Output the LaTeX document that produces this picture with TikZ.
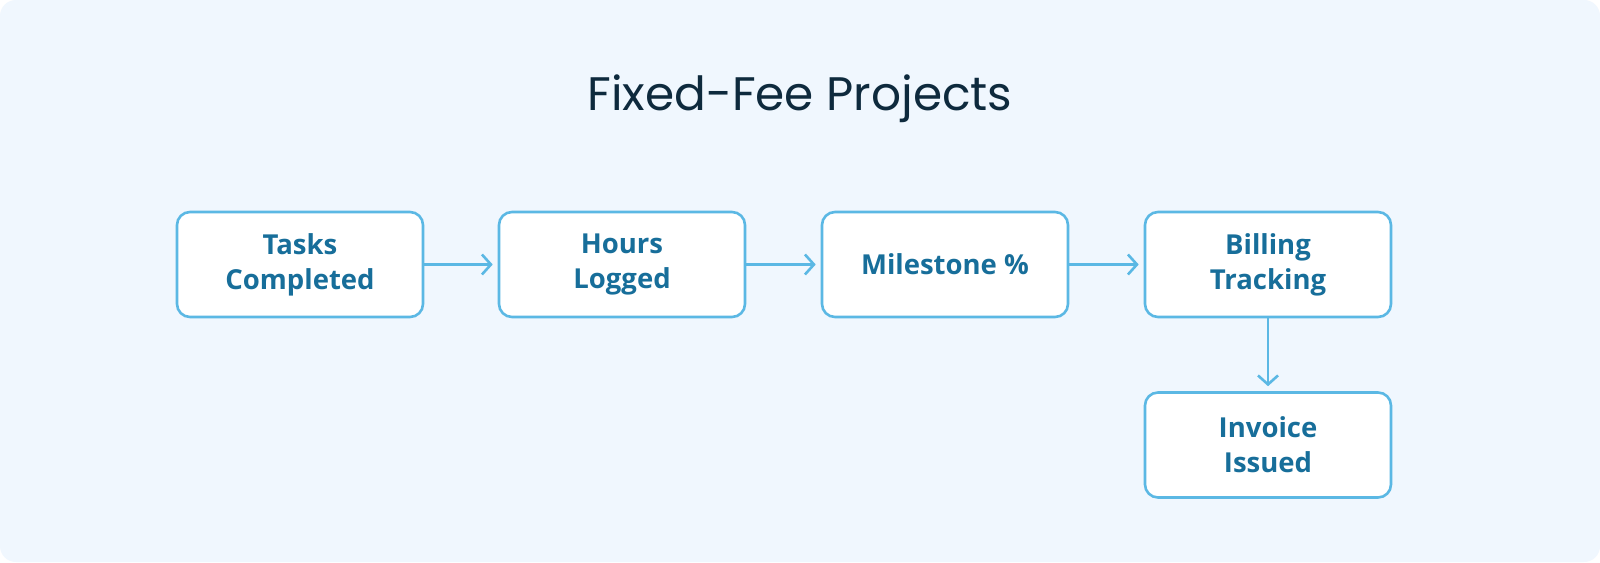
\documentclass[tikz,border=0pt]{standalone}
\usepackage{fontspec}
\usetikzlibrary{arrows.meta}
\newfontfamily\titlefont{Poppins}
\newfontfamily\boxfont{Open Sans}
\definecolor{bgblue}{HTML}{F0F7FE}
\definecolor{edgeblue}{HTML}{5BB8E4}
\definecolor{textblue}{HTML}{176E9A}
\definecolor{titlenavy}{HTML}{0E2A3D}
\tikzset{
  stepbox/.style={draw=edgeblue, line width=2.6pt, fill=white, rounded corners=13pt,
    minimum width=246pt, minimum height=105pt, align=center, text=textblue,
    font=\boxfont\bfseries\fontsize{27.5}{35}\selectfont, inner sep=0pt},
  flow/.style={draw=edgeblue, line width=2.6pt, -{Straight Barb[length=9pt,width=20pt,line width=2.6pt]}, shorten >=5pt}
}
\begin{document}
\begin{tikzpicture}[x=1pt,y=-1pt]
\fill[white] (0,0) rectangle (1600,562);
\useasboundingbox (0,0) rectangle (1600,562);
\fill[bgblue, rounded corners=16pt] (0,0) rectangle (1600,562);
\node[text=titlenavy, font=\titlefont\fontsize{47}{52}\selectfont] (title) at (800,99) {Fixed-Fee Projects};
\node[stepbox] (tasks) at (300,264.5) {Tasks\\Completed};
\node[stepbox] (hours) at (622,264.5) {Hours\\Logged};
\node[stepbox] (mile) at (945,264.5) {Milestone \%};
\node[stepbox] (bill) at (1268,264.5) {Billing\\Tracking};
\node[stepbox] (inv) at (1268,445) {Invoice\\Issued};
\draw[flow] (tasks) -- (hours);
\draw[flow] (hours) -- (mile);
\draw[flow] (mile) -- (bill);
\draw[flow] (bill) -- (inv);
\end{tikzpicture}
\end{document}
